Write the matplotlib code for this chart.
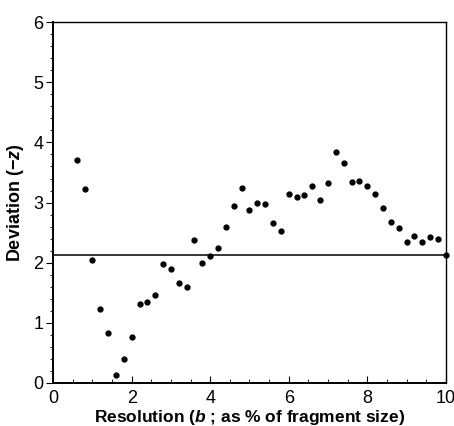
import matplotlib
matplotlib.use("Agg")
import matplotlib.pyplot as plt
from matplotlib.ticker import MultipleLocator

plt.rcParams['font.family'] = ['Liberation Sans', 'DejaVu Sans']
plt.rcParams['mathtext.fontset'] = 'custom'
plt.rcParams['mathtext.it'] = 'Liberation Sans:italic:bold'
plt.rcParams['mathtext.rm'] = 'Liberation Sans:bold'

# resolution b (% of fragment size) and deviation (-z)
resolution = [0.6, 0.8, 1.0, 1.2, 1.4, 1.6, 1.8, 2.0, 2.2, 2.4, 2.6, 2.8, 3.0, 3.2,
              3.4, 3.6, 3.8, 4.0, 4.2, 4.4, 4.6, 4.8, 5.0, 5.2, 5.4, 5.6, 5.8, 6.0,
              6.2, 6.4, 6.6, 6.8, 7.0, 7.2, 7.4, 7.6, 7.8, 8.0, 8.2, 8.4, 8.6, 8.8,
              9.0, 9.2, 9.4, 9.6, 9.8]
deviation = [3.70, 3.23, 2.04, 1.23, 0.83, 0.13, 0.40, 0.76, 1.32, 1.34, 1.46, 1.98,
             1.89, 1.66, 1.59, 2.37, 1.99, 2.11, 2.24, 2.59, 2.95, 3.24, 2.88, 3.00,
             2.98, 2.66, 2.52, 3.15, 3.10, 3.12, 3.28, 3.05, 3.33, 3.84, 3.65, 3.34,
             3.36, 3.28, 3.15, 2.91, 2.67, 2.58, 2.35, 2.45, 2.34, 2.43, 2.39]

# significance threshold line
threshold = 2.13

fig = plt.figure(figsize=(4.54, 4.26), dpi=100)
ax = fig.add_axes([0.117, 0.101, 0.865, 0.847])

ax.plot([0, 10], [threshold, threshold], color='black', lw=1.1)
ax.plot([10], [threshold], 'o', color='black', markersize=3.5, clip_on=False)
ax.plot(resolution, deviation, 'o', color='black', markersize=3.5)

ax.set_xlim(0, 10)
ax.set_ylim(0, 6)
ax.xaxis.set_major_locator(MultipleLocator(2))
ax.xaxis.set_minor_locator(MultipleLocator(0.5))
ax.yaxis.set_major_locator(MultipleLocator(1))
ax.yaxis.set_minor_locator(MultipleLocator(0.2))
ax.tick_params(axis='x', which='both', direction='in', labelsize=13, pad=5)
ax.tick_params(axis='x', which='major', length=5)
ax.tick_params(axis='x', which='minor', length=3)
ax.tick_params(axis='y', which='both', direction='out', labelsize=13, pad=2)
ax.tick_params(axis='y', which='major', length=5)
ax.tick_params(axis='y', which='minor', length=2.5)

for side in ['left', 'bottom']:
    ax.spines[side].set_linewidth(1.4)
for side in ['top', 'right']:
    ax.spines[side].set_linewidth(1.0)

ax.set_xlabel(r"Resolution ($b$ ; as % of fragment size)", fontsize=12.5,
              fontweight='bold', labelpad=1)
ax.set_ylabel("Deviation (\u2212$z$)", fontsize=13, fontweight='bold', labelpad=5)

fig.savefig("out.png", dpi=100)
